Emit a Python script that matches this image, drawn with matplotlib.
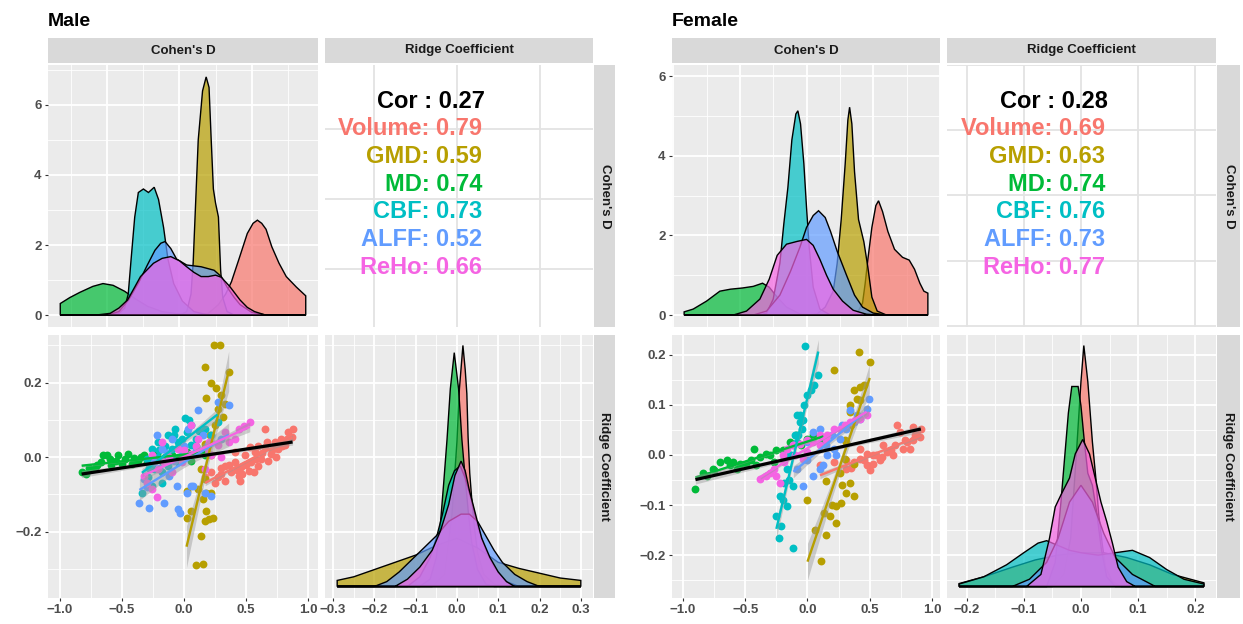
import numpy as np
import matplotlib
matplotlib.use("Agg")
import matplotlib.pyplot as plt
from matplotlib.colors import to_rgba
from matplotlib.ticker import MultipleLocator, FuncFormatter, NullLocator

plt.rcParams['font.family'] = ['Liberation Sans', 'DejaVu Sans']
plt.rcParams['font.weight'] = 'bold'

# groups and ggplot hue colours
groups = ['Volume', 'GMD', 'MD', 'CBF', 'ALFF', 'ReHo']
colors = ['#F8766D', '#B79F00', '#00BA38', '#00BFC4', '#619CFF', '#F564E3']

male_cor = 0.27
male_group_cor = [0.79, 0.59, 0.74, 0.73, 0.52, 0.66]
female_cor = 0.28
female_group_cor = [0.69, 0.63, 0.74, 0.76, 0.73, 0.77]

# ---- Cohen's D densities (x, density) ----
male_cd_volume = [(-0.826, 0), (0.1, 0.0), (0.2, 0.05), (0.27, 0.3), (0.32, 0.6), (0.36, 0.95), (0.41, 1.57),
                  (0.47, 2.33), (0.51, 2.62), (0.54, 2.71), (0.57, 2.62), (0.6, 2.45), (0.64, 1.95), (0.69, 1.48),
                  (0.74, 1.1), (0.81, 0.8), (0.875, 0.55)]
male_cd_gmd = [(-0.826, 0), (0.0, 0), (0.05, 0.1), (0.08, 0.6), (0.095, 1.5), (0.11, 3.0), (0.13, 5.0), (0.16, 6.4),
               (0.185, 6.8), (0.205, 6.5), (0.22, 5.0), (0.235, 3.6), (0.25, 3.2), (0.27, 2.8), (0.285, 1.3),
               (0.3, 0.5), (0.33, 0.1), (0.38, 0), (0.875, 0)]
male_cd_md = [(-0.826, 0.33), (-0.76, 0.5), (-0.69, 0.65), (-0.6, 0.82), (-0.53, 0.9), (-0.46, 0.85), (-0.38, 0.68),
              (-0.3, 0.45), (-0.22, 0.25), (-0.12, 0.1), (0.0, 0.03), (0.1, 0.01), (0.2, 0), (0.875, 0)]
male_cd_cbf = [(-0.826, 0), (-0.5, 0), (-0.42, 0.05), (-0.38, 0.2), (-0.355, 0.6), (-0.335, 1.6), (-0.31, 2.8),
               (-0.285, 3.5), (-0.25, 3.6), (-0.215, 3.5), (-0.175, 3.65), (-0.145, 3.3), (-0.11, 2.5),
               (-0.08, 1.6), (-0.04, 0.9), (0.02, 0.4), (0.1, 0.1), (0.2, 0), (0.875, 0)]
male_cd_alff = [(-0.826, 0), (-0.5, 0), (-0.42, 0.1), (-0.35, 0.45), (-0.28, 0.95), (-0.22, 1.45), (-0.17, 1.85),
                (-0.13, 2.05), (-0.1, 2.1), (-0.06, 1.9), (-0.02, 1.6), (0.05, 1.43), (0.15, 1.38), (0.24, 1.28),
                (0.29, 1.1), (0.33, 0.8), (0.38, 0.5), (0.42, 0.3), (0.5, 0.08), (0.6, 0), (0.875, 0)]
male_cd_reho = [(-0.826, 0), (-0.58, 0), (-0.48, 0.05), (-0.42, 0.2), (-0.36, 0.43), (-0.31, 0.8), (-0.27, 1.1),
                (-0.18, 1.48), (-0.12, 1.62), (-0.06, 1.67), (0.0, 1.55), (0.05, 1.38), (0.1, 1.22), (0.15, 1.1),
                (0.2, 1.1), (0.25, 1.14), (0.29, 1.08), (0.35, 0.81), (0.42, 0.43), (0.47, 0.22), (0.52, 0.1),
                (0.59, 0.01), (0.875, 0)]

female_cd_volume = [(-0.918, 0), (0.3, 0), (0.38, 0.05), (0.42, 0.3), (0.44, 0.8), (0.46, 1.4), (0.49, 2.2),
                    (0.52, 2.75), (0.54, 2.87), (0.57, 2.6), (0.61, 2.1), (0.66, 1.65), (0.72, 1.45), (0.77, 1.38),
                    (0.81, 1.15), (0.85, 0.8), (0.88, 0.6), (0.91, 0.55)]
female_cd_gmd = [(-0.918, 0), (0.0, 0), (0.08, 0.03), (0.14, 0.2), (0.2, 0.6), (0.23, 1.3), (0.26, 2.4), (0.29, 3.8),
                 (0.31, 4.9), (0.323, 5.22), (0.34, 4.8), (0.36, 3.6), (0.39, 2.4), (0.43, 1.84), (0.46, 1.2),
                 (0.49, 0.45), (0.53, 0.1), (0.6, 0), (0.91, 0)]
female_cd_md = [(-0.918, 0.08), (-0.85, 0.15), (-0.75, 0.35), (-0.65, 0.6), (-0.57, 0.65), (-0.48, 0.68),
                (-0.4, 0.72), (-0.33, 0.8), (-0.28, 0.7), (-0.22, 0.45), (-0.15, 0.2), (-0.05, 0.03), (0.05, 0),
                (0.91, 0)]
female_cd_cbf = [(-0.918, 0), (-0.35, 0), (-0.3, 0.05), (-0.25, 0.4), (-0.2, 1.3), (-0.17, 2.3), (-0.14, 3.2),
                 (-0.11, 4.4), (-0.08, 5.05), (-0.065, 5.13), (-0.045, 4.8), (-0.02, 3.8), (0.0, 2.7), (0.02, 1.7),
                 (0.05, 0.7), (0.1, 0.15), (0.18, 0), (0.91, 0)]
female_cd_alff = [(-0.918, 0), (-0.4, 0), (-0.3, 0.1), (-0.2, 0.5), (-0.12, 1.1), (-0.05, 1.7), (0.0, 2.2),
                  (0.05, 2.5), (0.09, 2.62), (0.14, 2.45), (0.18, 2.1), (0.23, 1.6), (0.3, 1.0), (0.36, 0.5),
                  (0.42, 0.2), (0.5, 0.05), (0.6, 0), (0.91, 0)]
female_cd_reho = [(-0.918, 0), (-0.55, 0), (-0.45, 0.1), (-0.35, 0.4), (-0.28, 0.9), (-0.22, 1.5), (-0.15, 1.78),
                  (-0.07, 1.85), (0.0, 1.9), (0.05, 1.75), (0.1, 1.4), (0.15, 1.0), (0.2, 0.65), (0.27, 0.35),
                  (0.35, 0.12), (0.45, 0.02), (0.55, 0), (0.91, 0)]

# ---- Ridge coefficient densities (x, relative height) ----
male_rc_volume = [(-0.29, 0), (-0.06, 0), (-0.03, 0.05), (-0.012, 0.3), (0.0, 0.6), (0.006, 0.82), (0.0145, 1.0),
                  (0.02, 0.9), (0.024, 0.8), (0.027, 0.62), (0.031, 0.47), (0.036, 0.36), (0.042, 0.25),
                  (0.05, 0.14), (0.065, 0.05), (0.09, 0.01), (0.12, 0), (0.30, 0)]
male_rc_gmd = [(-0.29, 0.025), (-0.25, 0.04), (-0.2, 0.07), (-0.15, 0.1), (-0.1, 0.13), (-0.05, 0.17), (0.0, 0.2),
               (0.05, 0.16), (0.1, 0.1), (0.15, 0.075), (0.2, 0.055), (0.25, 0.035), (0.30, 0.025)]
male_rc_md = [(-0.29, 0), (-0.09, 0), (-0.065, 0.03), (-0.05, 0.12), (-0.04, 0.26), (-0.032, 0.43), (-0.024, 0.61),
              (-0.016, 0.82), (-0.0065, 0.97), (0.004, 0.82), (0.012, 0.61), (0.02, 0.45), (0.028, 0.3),
              (0.036, 0.18), (0.05, 0.07), (0.07, 0.01), (0.09, 0), (0.30, 0)]
male_rc_cbf = [(-0.29, 0), (-0.12, 0), (-0.09, 0.04), (-0.065, 0.12), (-0.05, 0.2), (-0.035, 0.3), (-0.02, 0.42),
               (-0.006, 0.48), (0.008, 0.5), (0.02, 0.45), (0.035, 0.36), (0.05, 0.25), (0.07, 0.15),
               (0.09, 0.08), (0.12, 0.02), (0.15, 0), (0.30, 0)]
male_rc_alff = [(-0.29, 0), (-0.2, 0), (-0.17, 0.02), (-0.14, 0.06), (-0.11, 0.11), (-0.08, 0.16), (-0.05, 0.21),
                (-0.02, 0.27), (0.01, 0.3), (0.03, 0.3), (0.05, 0.27), (0.07, 0.21), (0.09, 0.15), (0.11, 0.1),
                (0.14, 0.05), (0.17, 0.02), (0.2, 0), (0.30, 0)]
male_rc_reho = [(-0.29, 0), (-0.15, 0), (-0.12, 0.03), (-0.09, 0.08), (-0.06, 0.15), (-0.04, 0.23), (-0.02, 0.34),
                (-0.005, 0.46), (0.01, 0.52), (0.02, 0.48), (0.03, 0.4), (0.045, 0.3), (0.06, 0.2), (0.08, 0.12),
                (0.1, 0.06), (0.12, 0.02), (0.14, 0), (0.30, 0)]

female_rc_volume = [(-0.213, 0), (-0.05, 0), (-0.03, 0.05), (-0.018, 0.2), (-0.008, 0.55), (0.0, 0.85),
                    (0.005, 1.0), (0.012, 0.85), (0.02, 0.6), (0.026, 0.45), (0.031, 0.3), (0.037, 0.18),
                    (0.043, 0.08), (0.055, 0.02), (0.07, 0), (0.215, 0)]
female_rc_gmd = [(-0.213, 0.012), (-0.17, 0.04), (-0.12, 0.08), (-0.08, 0.11), (-0.04, 0.13), (0.0, 0.14),
                 (0.04, 0.14), (0.08, 0.12), (0.12, 0.09), (0.16, 0.05), (0.215, 0.015)]
female_rc_md = [(-0.213, 0), (-0.06, 0), (-0.045, 0.1), (-0.035, 0.35), (-0.028, 0.55), (-0.022, 0.72),
                (-0.016, 0.83), (-0.005, 0.83), (0.0, 0.75), (0.006, 0.6), (0.012, 0.47), (0.02, 0.42),
                (0.028, 0.3), (0.036, 0.15), (0.045, 0.04), (0.06, 0), (0.215, 0)]
female_rc_cbf = [(-0.213, 0.01), (-0.17, 0.04), (-0.13, 0.09), (-0.1, 0.14), (-0.075, 0.18), (-0.06, 0.19),
                 (-0.04, 0.17), (-0.02, 0.15), (0.0, 0.14), (0.03, 0.13), (0.06, 0.14), (0.09, 0.15),
                 (0.12, 0.12), (0.15, 0.07), (0.18, 0.03), (0.215, 0.01)]
female_rc_alff = [(-0.213, 0), (-0.12, 0), (-0.09, 0.03), (-0.06, 0.1), (-0.04, 0.2), (-0.02, 0.35), (0.0, 0.42),
                  (0.02, 0.35), (0.04, 0.22), (0.06, 0.12), (0.09, 0.05), (0.13, 0), (0.215, 0)]
female_rc_reho = [(-0.213, 0), (-0.095, 0), (-0.07, 0.05), (-0.055, 0.2), (-0.045, 0.33), (-0.035, 0.38),
                  (-0.02, 0.45), (-0.01, 0.55), (0.003, 0.61), (0.015, 0.55), (0.025, 0.45), (0.035, 0.35),
                  (0.045, 0.27), (0.055, 0.18), (0.065, 0.08), (0.08, 0.02), (0.095, 0), (0.215, 0)]

# ---- scatter points (Cohen's D, Ridge Coefficient) ----
male_pts_volume = [(0.22, -0.04), (0.27, -0.054), (0.3, -0.03), (0.33, -0.063), (0.38, -0.04), (0.41, -0.014),
                   (0.44, -0.05), (0.46, -0.027), (0.49, 0.005), (0.52, -0.036), (0.54, -0.014), (0.57, 0.014),
                   (0.6, -0.023), (0.62, -0.005), (0.65, 0.027), (0.68, -0.009), (0.7, 0.009), (0.73, 0.04),
                   (0.76, 0.023), (0.78, 0.05), (0.81, 0.032), (0.84, 0.068), (0.87, 0.054), (0.875, 0.077),
                   (0.65, 0.077), (0.17, -0.054), (0.33, -0.023), (0.45, -0.063), (0.56, -0.04), (0.25, -0.068),
                   (0.41, 0.014), (0.74, 0.0), (0.53, 0.027), (0.3, -0.045), (0.36, -0.02), (0.43, -0.035),
                   (0.5, -0.02), (0.58, -0.005), (0.63, 0.01), (0.67, 0.04), (0.71, 0.02), (0.79, 0.03),
                   (0.83, 0.05), (0.6, 0.03), (0.47, -0.045)]
male_pts_gmd = [(0.24, 0.3), (0.29, 0.3), (0.17, 0.243), (0.36, 0.23), (0.22, 0.2), (0.26, 0.186), (0.18, 0.158),
                (0.3, 0.167), (0.33, 0.144), (0.27, 0.13), (0.31, 0.108), (0.25, 0.086), (0.21, 0.059),
                (0.17, 0.036), (0.22, 0.005), (0.14, -0.032), (0.17, -0.059), (0.11, -0.086), (0.18, -0.095),
                (0.22, -0.095), (0.15, -0.113), (0.18, -0.144), (0.17, -0.171), (0.2, -0.167), (0.23, -0.162),
                (0.14, -0.212), (0.027, -0.162), (0.094, -0.29), (0.15, -0.288), (0.06, -0.144), (0.02, -0.092)]
male_pts_md = [(-0.826, -0.04), (-0.79, -0.045), (-0.77, -0.03), (-0.72, -0.03), (-0.67, -0.014), (-0.65, 0.006),
               (-0.62, 0.006), (-0.59, -0.02), (-0.53, 0.006), (-0.5, -0.018), (-0.45, 0.009), (-0.42, -0.018),
               (-0.37, -0.009), (-0.32, 0.005), (-0.3, -0.014), (-0.26, -0.005), (-0.22, 0.009), (-0.18, -0.009),
               (-0.1, 0.005), (-0.05, -0.005), (0.02, 0.014), (0.06, -0.009), (0.1, 0.03), (0.17, 0.005),
               (-0.55, -0.01), (-0.4, -0.003), (-0.7, -0.02), (-0.6, -0.005), (-0.48, -0.005), (-0.35, 0.0),
               (-0.15, 0.0), (0.0, 0.0)]
male_pts_cbf = [(-0.34, -0.095), (-0.29, -0.054), (-0.26, -0.077), (-0.24, -0.032), (-0.21, 0.04), (-0.18, -0.04),
                (-0.16, -0.005), (-0.13, 0.059), (-0.1, 0.023), (-0.075, 0.077), (-0.048, 0.04), (0.005, 0.104),
                (0.02, 0.068), (0.06, 0.086), (0.1, 0.05), (0.167, 0.077), (0.22, 0.059), (0.27, 0.095),
                (-0.22, 0.0), (-0.05, -0.014), (-0.18, -0.068), (-0.26, 0.023), (-0.3, -0.005), (-0.13, -0.023),
                (0.06, 0.032), (-0.2, 0.02), (-0.15, 0.03), (-0.08, 0.06), (-0.02, 0.05), (0.04, 0.1),
                (0.12, 0.07), (-0.28, -0.03)]
male_pts_alff = [(-0.36, -0.122), (-0.28, -0.137), (-0.16, -0.122), (-0.06, -0.077), (-0.05, -0.14),
                 (-0.035, -0.149), (0.027, -0.095), (0.073, -0.077), (0.113, 0.126), (0.06, -0.077),
                 (0.167, -0.095), (-0.22, 0.059), (-0.18, 0.023), (-0.1, 0.05), (0.032, 0.077), (0.27, 0.149),
                 (0.36, 0.141), (-0.32, -0.059), (-0.24, -0.014), (-0.12, -0.05), (-0.02, 0.014), (0.19, 0.032),
                 (0.3, 0.05), (0.22, -0.104), (-0.3, -0.08), (-0.2, -0.03), (-0.08, -0.01), (0.0, 0.03),
                 (0.1, 0.02), (0.15, 0.06), (-0.14, 0.01)]
male_pts_reho = [(-0.32, -0.05), (-0.26, -0.086), (-0.22, -0.108), (-0.21, -0.032), (-0.16, -0.014), (-0.1, -0.04),
                 (-0.048, 0.023), (-0.02, -0.014), (0.06, 0.009), (0.11, 0.05), (0.17, 0.023), (0.22, 0.005),
                 (0.27, 0.032), (0.33, 0.068), (0.41, 0.05), (0.53, 0.095), (0.17, -0.032), (0.3, 0.0),
                 (-0.26, 0.005), (0.06, 0.086), (-0.18, 0.04), (0.44, 0.077), (-0.3, -0.07), (-0.12, 0.0),
                 (0.0, 0.02), (0.1, 0.03), (0.2, 0.04), (0.36, 0.04), (0.48, 0.085)]

female_pts_volume = [(0.1, -0.021), (0.21, -0.015), (0.31, -0.028), (0.37, -0.015), (0.42, -0.008), (0.48, -0.021),
                     (0.53, -0.001), (0.58, -0.011), (0.64, 0.005), (0.69, -0.001), (0.72, 0.059), (0.77, 0.012),
                     (0.8, 0.025), (0.85, 0.029), (0.88, 0.039), (0.91, 0.052), (0.9, 0.035), (0.53, -0.018),
                     (0.42, 0.012), (0.61, 0.019), (0.48, 0.002), (0.31, -0.011), (0.74, 0.045), (0.82, 0.012),
                     (0.85, 0.056), (0.35, -0.025), (0.45, -0.01), (0.55, 0.0), (0.6, -0.005), (0.67, 0.01),
                     (0.7, 0.02), (0.78, 0.03), (0.86, 0.04), (0.5, -0.03)]
female_pts_gmd = [(0.41, 0.206), (0.21, 0.169), (0.5, 0.186), (0.37, 0.129), (0.42, 0.136), (0.34, 0.099),
                  (0.4, 0.112), (0.34, 0.086), (0.31, 0.025), (0.3, -0.008), (0.26, -0.035), (0.34, -0.055),
                  (0.31, -0.075), (0.37, -0.082), (0.27, -0.095), (0.23, -0.102), (0.15, -0.052), (0.13, -0.115),
                  (0.18, -0.122), (0.23, -0.135), (0.15, -0.159), (0.11, -0.212), (0.37, -0.018), (0.42, 0.109),
                  (0.0, -0.09), (0.06, -0.15), (0.3, 0.03), (0.35, 0.06), (0.28, -0.06), (0.2, -0.1),
                  (0.45, 0.14)]
female_pts_md = [(-0.9, -0.068), (-0.84, -0.035), (-0.81, -0.041), (-0.76, -0.028), (-0.7, -0.015), (-0.65, -0.011),
                 (-0.6, -0.015), (-0.57, -0.028), (-0.54, -0.018), (-0.49, -0.018), (-0.43, 0.012), (-0.41, -0.021),
                 (-0.38, -0.005), (-0.33, 0.002), (-0.27, -0.015), (-0.25, 0.009), (-0.19, -0.008), (-0.14, 0.025),
                 (-0.09, 0.039), (-0.007, 0.032), (0.047, 0.039), (0.127, 0.025), (-0.75, -0.03), (-0.62, -0.02),
                 (-0.45, -0.01), (-0.3, 0.0), (-0.2, 0.01), (-0.05, 0.02)]
female_pts_cbf = [(-0.02, 0.218), (0.087, 0.16), (0.0, 0.12), (-0.03, 0.1), (-0.1, 0.04),
                  (-0.087, 0.079), (-0.06, 0.066), (-0.047, 0.052), (-0.087, 0.025), (-0.14, -0.001),
                  (-0.167, -0.028), (-0.19, -0.055), (-0.22, -0.082), (-0.25, -0.122), (-0.23, -0.165),
                  (-0.12, -0.185), (-0.167, -0.102), (-0.114, -0.062), (-0.06, 0.08), (0.05, 0.14),
                  (-0.13, 0.0), (-0.21, -0.142), (-0.2, -0.09), (-0.15, -0.05), (-0.08, 0.04), (-0.04, 0.07),
                  (0.03, 0.13)]
female_pts_alff = [(-0.033, -0.062), (0.047, -0.041), (0.1, -0.028), (0.154, -0.001), (0.21, 0.012), (0.26, 0.032),
                   (0.31, 0.052), (0.37, 0.066), (0.42, 0.072), (0.475, 0.092), (0.49, 0.112), (0.1, 0.052),
                   (-0.007, 0.025), (-0.114, 0.019), (0.23, -0.001), (0.34, 0.089), (0.127, -0.021),
                   (-0.087, -0.028), (0.047, 0.046), (0.0, -0.01), (0.15, 0.02), (0.28, 0.06), (0.4, 0.08),
                   (0.2, 0.04)]
female_pts_reho = [(-0.38, -0.048), (-0.33, -0.041), (-0.27, -0.028), (-0.25, -0.041), (-0.19, -0.015),
                   (-0.167, 0.012), (-0.114, 0.019), (-0.06, 0.022), (-0.007, 0.005), (0.047, 0.025), (0.1, 0.039),
                   (0.154, 0.039), (0.21, 0.052), (0.26, 0.052), (0.34, 0.066), (0.42, 0.072), (0.475, 0.079),
                   (-0.22, -0.055), (-0.033, -0.008), (0.1, 0.019), (-0.3, -0.035), (-0.2, 0.0), (-0.1, 0.0),
                   (0.0, 0.03), (0.15, 0.03), (0.3, 0.06), (0.38, 0.07)]

W, H = 1243, 624
fig = plt.figure(figsize=(W / 100, H / 100), dpi=100)
fig.patch.set_facecolor('white')


def box(x0, y0, x1, y1):
    return fig.add_axes([x0 / W, 1 - y1 / H, (x1 - x0) / W, (y1 - y0) / H])


def fmt(dec):
    def f(v, pos):
        if abs(v) < 1e-9:
            v = 0.0
        return f'{v:.{dec}f}'.replace('-', '\u2212')
    return FuncFormatter(f)


def gg(ax, xmaj, xmin, ymaj, ymin, bg='#EBEBEB', gridc='white', minor=True):
    ax.set_facecolor(bg)
    for s in ax.spines.values():
        s.set_visible(False)
    ax.set_axisbelow(True)
    ax.xaxis.set_major_locator(MultipleLocator(xmaj))
    ax.yaxis.set_major_locator(MultipleLocator(ymaj))
    if minor:
        ax.xaxis.set_minor_locator(MultipleLocator(xmin))
        ax.yaxis.set_minor_locator(MultipleLocator(ymin))
        ax.grid(True, which='minor', color=gridc, lw=0.6)
    else:
        ax.xaxis.set_minor_locator(NullLocator())
        ax.yaxis.set_minor_locator(NullLocator())
    ax.grid(True, which='major', color=gridc, lw=1.3)
    ax.tick_params(which='minor', length=0)
    ax.tick_params(which='major', length=2.5, width=0.8, color='#333333', labelcolor='#4D4D4D',
                   labelsize=9.5, pad=2)
    ax.tick_params(left=False, bottom=False, labelleft=False, labelbottom=False)


def strip(x0, y0, x1, y1, text, rot=0):
    a = box(x0, y0, x1, y1)
    a.set_facecolor('#D9D9D9')
    a.set_xticks([])
    a.set_yticks([])
    for s in a.spines.values():
        s.set_visible(False)
    a.text(0.5, 0.5, text, rotation=rot, ha='center', va='center', fontsize=9.5,
           color='#1A1A1A', transform=a.transAxes)


def density(ax, curves, base=0.0, scale=1.0):
    for c, cur in zip(colors, curves):
        arr = np.array(cur, dtype=float)
        x = arr[:, 0]
        y = base + arr[:, 1] * scale
        xs = np.r_[x[0], x, x[-1]]
        ys = np.r_[base, y, base]
        ax.fill(xs, ys, facecolor=to_rgba(c, 0.7), edgecolor='black', lw=1.0, zorder=2)


def fit_line(ax, x, y, color, lw, z, k):
    b, a = np.polyfit(x, y, 1)
    xs = np.linspace(x.min(), x.max(), 80)
    yhat = a + b * xs
    n = len(x)
    resid = y - (a + b * x)
    s = np.sqrt(resid @ resid / (n - 2))
    se = s * np.sqrt(1 / n + (xs - x.mean()) ** 2 / ((x - x.mean()) ** 2).sum())
    ax.fill_between(xs, yhat - k * se, yhat + k * se, color='#999999', alpha=0.45, lw=0, zorder=z)
    ax.plot(xs, yhat, color=color, lw=lw, zorder=z + 0.5, solid_capstyle='butt')


def pairs(title, c1, c2, rs, cd, rc, pts, cor, gcor, cd_xlim, cd_ylim, rc_xlim, tr_xmaj,
          sc_xlim, sc_ylim, sc_ymaj, rc_base, rc_top):
    r1, r2 = (65, 327), (335, 598)
    fig.text(c1[0] / W, 1 - 26 / H, title, fontsize=14, fontweight='bold', va='baseline', ha='left')
    strip(c1[0], 38, c1[1], 63, "Cohen's D")
    strip(c2[0], 38, c2[1], 63, 'Ridge Coefficient')
    strip(rs[0], r1[0], rs[1], r1[1], "Cohen's D", rot=-90)
    strip(rs[0], r2[0], rs[1], r2[1], 'Ridge Coefficient', rot=-90)

    # Cohen's D density (top left)
    ax = box(c1[0], r1[0], c1[1], r1[1])
    gg(ax, 0.5, 0.25, 2, 1)
    density(ax, cd)
    ax.set_xlim(cd_xlim)
    ax.set_ylim(cd_ylim)
    ax.tick_params(left=True, labelleft=True)
    ax.yaxis.set_major_formatter(fmt(0))

    # correlation text (top right)
    ax = box(c2[0], r1[0], c2[1], r1[1])
    gg(ax, tr_xmaj, 0.1, 0.5, 0.25, bg='white', gridc='#E3E3E3', minor=False)
    ax.set_xlim(rc_xlim)
    ax.set_ylim(cd_xlim)
    ax.text(0.597, 0.86, f'Cor : {cor:.2f}', transform=ax.transAxes, ha='right', va='center',
            fontsize=17, color='black')
    for i, (g, c, v) in enumerate(zip(groups, colors, gcor)):
        ax.text(0.587, 0.756 - i * 0.1055, f'{g}: {v:.2f}', transform=ax.transAxes, ha='right',
                va='center', fontsize=17, color=c)

    # scatter (bottom left)
    ax = box(c1[0], r2[0], c1[1], r2[1])
    gg(ax, 0.5, 0.25, sc_ymaj, sc_ymaj / 2)
    arrs = [np.array(p, dtype=float) for p in pts]
    for c, arr in zip(colors, arrs):
        ax.scatter(arr[:, 0], arr[:, 1], s=32, color=c, lw=0, zorder=2)
    for c, arr in zip(colors, arrs):
        fit_line(ax, arr[:, 0], arr[:, 1], c, 1.7, 3, 1.0)
    allp = np.vstack(arrs)
    fit_line(ax, allp[:, 0], allp[:, 1], 'black', 2.3, 5, 0.6)
    ax.set_xlim(sc_xlim)
    ax.set_ylim(sc_ylim)
    ax.tick_params(left=True, labelleft=True, bottom=True, labelbottom=True)
    ax.xaxis.set_major_formatter(fmt(1))
    ax.yaxis.set_major_formatter(fmt(1))

    # ridge density (bottom right), scaled to the row's range
    ax = box(c2[0], r2[0], c2[1], r2[1])
    gg(ax, 0.1, 0.05, sc_ymaj, sc_ymaj / 2)
    density(ax, rc, base=rc_base, scale=rc_top - rc_base)
    ax.set_xlim(rc_xlim)
    ax.set_ylim(sc_ylim)
    ax.tick_params(bottom=True, labelbottom=True)
    ax.xaxis.set_major_formatter(fmt(1))


pairs('Male', (48, 318), (325, 593), (594, 615),
      [male_cd_volume, male_cd_gmd, male_cd_md, male_cd_cbf, male_cd_alff, male_cd_reho],
      [male_rc_volume, male_rc_gmd, male_rc_md, male_rc_cbf, male_rc_alff, male_rc_reho],
      [male_pts_volume, male_pts_gmd, male_pts_md, male_pts_cbf, male_pts_alff, male_pts_reho],
      male_cor, male_group_cor,
      (-0.911, 0.96), (-0.34, 7.14), (-0.3195, 0.3295), 0.2,
      (-1.097, 1.08), (-0.378, 0.328), 0.2, -0.347, 0.30)

pairs('Female', (672, 940), (947, 1216), (1217, 1240),
      [female_cd_volume, female_cd_gmd, female_cd_md, female_cd_cbf, female_cd_alff, female_cd_reho],
      [female_rc_volume, female_rc_gmd, female_rc_md, female_rc_cbf, female_rc_alff, female_rc_reho],
      [female_pts_volume, female_pts_gmd, female_pts_md, female_pts_cbf, female_pts_alff, female_pts_reho],
      female_cor, female_group_cor,
      (-1.009, 1.001), (-0.3, 6.28), (-0.2342, 0.2361), 0.1,
      (-1.088, 1.064), (-0.285, 0.239), 0.1, -0.262, 0.218)

fig.savefig('out.png', dpi=100, facecolor='white')
